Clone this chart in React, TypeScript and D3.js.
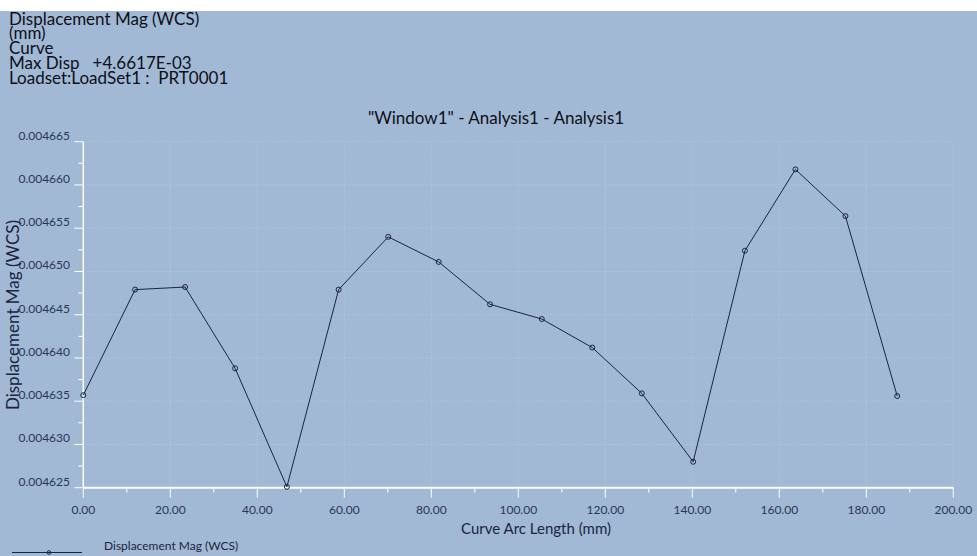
import React from "react";
import * as d3 from "d3";

const arcLength = [0, 11.9, 23.4, 34.9, 46.8, 58.7, 70.1, 81.7, 93.5, 105.4, 117.0, 128.4, 140.2, 152.1, 163.7, 175.2, 187.1];
const dispMag = [0.0046357, 0.0046479, 0.0046482, 0.0046388, 0.0046251, 0.0046479, 0.004654, 0.0046511, 0.0046462, 0.0046445, 0.0046412, 0.0046359, 0.004628, 0.0046524, 0.0046618, 0.0046564, 0.0046356];
const xTicks = [0, 20, 40, 60, 80, 100, 120, 140, 160, 180, 200];
const yTicks = [0.004625, 0.00463, 0.004635, 0.00464, 0.004645, 0.00465, 0.004655, 0.00466, 0.004665];
const headerLines = ["Displacement Mag (WCS)", "(mm)", "Curve", "Max Disp   +4.6617E-03", "Loadset:LoadSet1 :  PRT0001"];
const titleText = "\"Window1\" - Analysis1 - Analysis1";
const xTitle = "Curve Arc Length (mm)";
const yTitle = "Displacement Mag (WCS)";
const legendLabel = "Displacement Mag (WCS)";

const W = 977, H = 556;
const BG = "#a1b9d4";
const INK = "#1b2440";
const FONT = "Lato, 'Open Sans', sans-serif";

export default function App() {
  const x = d3.scaleLinear().domain([0, 200]).range([83.3, 953.3]);
  const y = d3.scaleLinear().domain([0.004625, 0.004665]).range([487.7, 141.7]);
  const pts = arcLength.map((a, i) => [a, dispMag[i]] as [number, number]);
  const line = d3.line<[number, number]>().x(d => x(d[0])).y(d => y(d[1]));
  const xMinor = d3.range(10, 200, 20);
  const yMinor = yTicks.slice(0, -1).map((t, i) => (t + yTicks[i + 1]) / 2);
  const fx = d3.format(".2f");
  const fy = d3.format(".6f");
  const headerBase = [25, 39, 54, 69, 84];

  return (
    <svg width={W} height={H} style={{ position: "absolute", left: 0, top: 0, display: "block" }} fontFamily={FONT}>
      <rect x={0} y={0} width={W} height={H} fill="#ffffff" />
      <rect x={0} y={11} width={W} height={H - 11} fill={BG} />

      {/* header */}
      {headerLines.map((t, i) => (
        <text key={i} x={9} y={headerBase[i]} fontSize={17} fill="#0d0f18" style={{ whiteSpace: "pre" }}>{t}</text>
      ))}

      {/* title */}
      <text x={496} y={124} textAnchor="middle" fontSize={17} fill="#0d0f18">{titleText}</text>

      {/* gridlines */}
      {xTicks.slice(1).map(t => (
        <line key={"gx" + t} x1={x(t)} x2={x(t)} y1={y(0.004665)} y2={y(0.004625)} stroke="#b6c9de" strokeWidth={1} strokeDasharray="1,2" />
      ))}
      {yTicks.slice(1).map(t => (
        <line key={"gy" + t} x1={x(0)} x2={x(200)} y1={y(t)} y2={y(t)} stroke="#b6c9de" strokeWidth={1} strokeDasharray="1,2" />
      ))}

      {/* axes */}
      <line x1={x(0)} x2={x(0)} y1={y(0.004665)} y2={y(0.004625)} stroke="#ffffff" strokeWidth={1.5} />
      <line x1={x(0)} x2={x(200)} y1={y(0.004625)} y2={y(0.004625)} stroke="#ffffff" strokeWidth={2} />
      {yTicks.map(t => (
        <line key={"ty" + t} x1={x(0) - 9} x2={x(0)} y1={y(t)} y2={y(t)} stroke="#ffffff" strokeWidth={1} />
      ))}
      {yMinor.map(t => (
        <line key={"my" + t} x1={x(0) - 5} x2={x(0)} y1={y(t)} y2={y(t)} stroke="#ffffff" strokeWidth={1} />
      ))}
      {xTicks.map(t => (
        <line key={"tx" + t} x1={x(t)} x2={x(t)} y1={y(0.004625)} y2={y(0.004625) + 10} stroke="#ffffff" strokeWidth={1} />
      ))}
      {xMinor.map(t => (
        <line key={"mx" + t} x1={x(t)} x2={x(t)} y1={y(0.004625)} y2={y(0.004625) + 5} stroke="#ffffff" strokeWidth={1} />
      ))}

      {/* tick labels */}
      {yTicks.map(t => (
        <text key={"ly" + t} x={70} y={y(t) - 2} textAnchor="end" fontSize={12} fill="#2c3654">{fy(t)}</text>
      ))}
      {xTicks.map(t => (
        <text key={"lx" + t} x={x(t)} y={514} textAnchor="middle" fontSize={12} fill="#2c3654">{fx(t)}</text>
      ))}

      {/* axis titles */}
      <text x={536} y={534} textAnchor="middle" fontSize={15} fill={INK}>{xTitle}</text>
      <text transform={`translate(19,${315}) rotate(-90)`} textAnchor="middle" fontSize={17} fill={INK}>{yTitle}</text>

      {/* series */}
      <path d={line(pts) || ""} fill="none" stroke={INK} strokeWidth={1} />
      {pts.map((p, i) => (
        <circle key={"p" + i} cx={x(p[0])} cy={y(p[1])} r={2.5} fill="none" stroke={INK} strokeWidth={1} />
      ))}

      {/* legend */}
      <line x1={12} x2={82} y1={552.5} y2={552.5} stroke={INK} strokeWidth={1} />
      <circle cx={49} cy={552.5} r={1.8} fill="none" stroke={INK} strokeWidth={1} />
      <text x={104} y={550} fontSize={12} fill={INK}>{legendLabel}</text>
    </svg>
  );
}
